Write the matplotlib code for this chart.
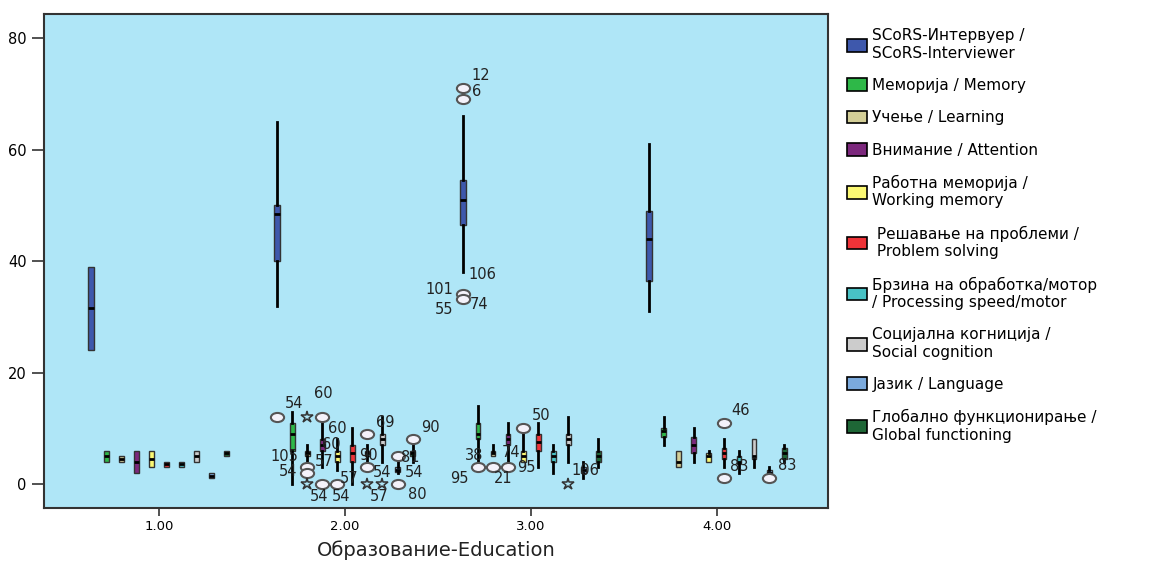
import numpy as np
import matplotlib
matplotlib.use("Agg")
import matplotlib.pyplot as plt
from matplotlib.patches import Patch
from matplotlib.path import Path

plt.rcParams['font.family'] = ['DejaVu Sans']

groups = [1.0, 2.0, 3.0, 4.0]

series = ["SCoRS-Интервуер /\nSCoRS-Interviewer",
          "Меморија / Memory",
          "Учење / Learning",
          "Внимание / Attention",
          "Работна меморија /\nWorking memory",
          " Решавање на проблеми /\n Problem solving",
          "Брзина на обработка/мотор\n/ Processing speed/motor",
          "Социјална когниција /\nSocial cognition",
          "Јазик / Language",
          "Глобално функционирање /\nGlobal functioning"]

colors = ["#3E58AC", "#2EB848", "#D3CE97", "#7C287D", "#FBF873",
          "#EF3338", "#48C2C5", "#CCCCCC", "#7BAADD", "#1E6636"]

# per series: one value per education group (1..4)
whislo = [[24, 32, 38, 31], [4, 0, 3, 7], [4, 4, 5, 3], [2, 3, 4, 4], [3, 2.5, 4, 4],
          [3, 0, 3, 3], [3, 4, 2, 2], [4, 4, 4, 3], [1, 2, 1, 1.5], [5, 4, 3, 4]]
q1 = [[24, 40, 46.5, 36.5], [4, 6, 8, 8.5], [4, 5, 5, 3], [2, 6, 7, 5.5], [3, 4, 4, 4],
      [3, 4, 6, 4.5], [3, 5, 4, 3.5], [4, 7, 7, 4.5], [1, 2.2, 2, 1.6], [5, 5, 4, 4.5]]
med = [[31.5, 48.5, 51, 44], [5, 9, 9, 9.5], [4.5, 5.5, 5.5, 4], [4, 7, 8, 7], [4.5, 5, 5, 5],
       [3.5, 5.5, 7.5, 5.5], [3.5, 5.5, 5, 4], [5, 8, 8, 5], [1.5, 2.5, 2.5, 2], [5.5, 5.5, 5, 5.5]]
q3 = [[39, 50, 54.5, 49], [6, 11, 11, 10], [5, 6, 6, 6], [6, 8, 9, 8.5], [6, 6, 6, 5.5],
      [4, 7, 9, 6.5], [4, 6, 6, 5], [6, 9, 9, 8], [2, 3.1, 3, 2.5], [6, 6, 6, 6.5]]
whishi = [[39, 65, 66, 61], [6, 13, 14, 12], [5, 7, 7, 6], [6, 11, 11, 10], [6, 8, 9, 6],
          [4, 10, 11, 8], [4, 7, 7, 6], [6, 12, 12, 8], [2, 4, 4, 3], [6, 7, 8, 7]]

# outliers: (group index, series index, value, kind)
outliers = [(1, 0, 12, 'o'), (1, 2, 12, '*'), (1, 3, 12, 'o'), (1, 2, 3, 'o'), (1, 2, 2, 'o'),
            (1, 2, 0, '*'), (1, 3, 0, 'o'), (1, 4, 0, 'o'), (1, 6, 9, 'o'), (1, 6, 3, 'o'),
            (1, 6, 0, '*'), (1, 7, 0, '*'), (1, 8, 5, 'o'), (1, 8, 0, 'o'), (1, 9, 8, 'o'),
            (2, 0, 71, 'o'), (2, 0, 69, 'o'), (2, 0, 34, 'o'), (2, 0, 33.2, 'o'),
            (2, 1, 3, 'o'), (2, 2, 3, 'o'), (2, 3, 3, 'o'), (2, 4, 10, 'o'), (2, 7, 0, '*'),
            (3, 5, 11, 'o'), (3, 5, 1.1, 'o'), (3, 8, 1.1, 'o')]

# case labels: (group index, series index, value, text, dx px, dy px)
case_labels = [(1, 0, 12, "54", 17, 14), (1, 3, 12, "60", 1, 24), (1, 2, 3, "105", -23, 11),
               (1, 2, 2, "54", -19, 1), (1, 3, 0, "54", -3, -12), (1, 4, 0, "54", 4, -12),
               (1, 4, 10, "60", 0, 0), (1, 3, 7, "60", 9, 0), (1, 3, 4.1, "57", 2, 0),
               (1, 5, 1, "57", -3, 0), (1, 6, 5.2, "90", 1, 0), (1, 7, 2, "54", 0, 0),
               (1, 6, 0, "57", 12, -12), (1, 7, 11, "69", 3, 0), (1, 9, 8, "90", 18, 12),
               (1, 8, 5, "81", 13, -1), (1, 8, 2, "54", 17, 0), (1, 8, 0, "80", 20, -10),
               (2, 0, 71, "12", 18, 13), (2, 0, 69, "6", 14, 8), (2, 0, 34, "101", -24, 5),
               (2, 0, 33.2, "55", -19, -11), (2, 0, 33.2, "74", 16, -6), (2, 0, 34, "106", 19, 20),
               (2, 1, 3, "38", -4, 12), (2, 1, 3, "95", -19, -11), (2, 3, 3, "21", -5, -11),
               (2, 3, 3, "74", 3, 15), (2, 4, 3, "95", 3, 0), (2, 5, 12.2, "50", 3, 0),
               (2, 8, 2.5, "106", 2, 0),
               (3, 5, 11, "46", 17, 12), (3, 6, 3.2, "83", 0, 0), (3, 8, 1.1, "83", 18, 12)]

spacing = 0.081
start = -0.365

fig = plt.figure(figsize=(11.69, 5.61), dpi=100)
ax = fig.add_axes([0.0376, 0.0945, 0.6707, 0.8805])
ax.set_facecolor("#AFE6F7")

for i in range(len(series)):
    stats = []
    pos = []
    for g in range(len(groups)):
        stats.append(dict(whislo=whislo[i][g], q1=q1[i][g], med=med[i][g], q3=q3[i][g],
                          whishi=whishi[i][g], fliers=[]))
        pos.append(groups[g] + start + spacing * i)
    w = 0.032 if i == 0 else 0.026
    ax.bxp(stats, positions=pos, widths=w, showcaps=False, patch_artist=True,
           boxprops=dict(facecolor=colors[i], edgecolor="#333333", linewidth=1.0),
           whiskerprops=dict(color="black", linewidth=2),
           medianprops=dict(color="black", linewidth=2),
           manage_ticks=False)

circ = Path.unit_circle()
ell = Path(circ.vertices * np.array([1.45, 1.0]), circ.codes)

for g, i, v, kind in outliers:
    x = groups[g] + start + spacing * i
    if kind == 'o':
        ax.plot(x, v, marker=ell, ms=9.5, mfc="#F4F2FA", mec="#555555", mew=1.5, ls="none", zorder=5)
    else:
        ax.plot(x, v, marker='*', ms=9, mfc="none", mec="#333333", mew=1.1, ls="none", zorder=5)

for g, i, v, txt, dx, dy in case_labels:
    x = groups[g] + start + spacing * i
    ax.annotate(txt, (x, v), xytext=(dx, dy), textcoords="offset pixels",
                ha="center", va="center", fontsize=10.5, color="#222222", zorder=6)

ax.set_xlim(0.38, 4.60)
ax.set_ylim(-4.3, 84.3)
ax.set_xticks(groups)
ax.set_xticklabels(["%.2f" % g for g in groups], fontsize=9.5)
ax.set_yticks([0, 20, 40, 60, 80])
ax.tick_params(axis="y", labelsize=10.5, length=9, width=1.2, color="#333333")
ax.tick_params(axis="x", length=6, width=1.2, color="#333333", pad=3)
for s in ax.spines.values():
    s.set_color("#333333")
    s.set_linewidth(1.5)
ax.set_xlabel("Образование-Education", fontsize=14, labelpad=5, color="#222222")

handles = [Patch(facecolor=c, edgecolor="black", linewidth=1.2) for c in colors]
fig.legend(handles, series, loc="upper left", bbox_to_anchor=(0.713, 0.974), frameon=False,
           fontsize=11, handlelength=1.3, handleheight=0.9, handletextpad=0.35,
           labelspacing=1.13)

fig.savefig("out.png", dpi=100)
